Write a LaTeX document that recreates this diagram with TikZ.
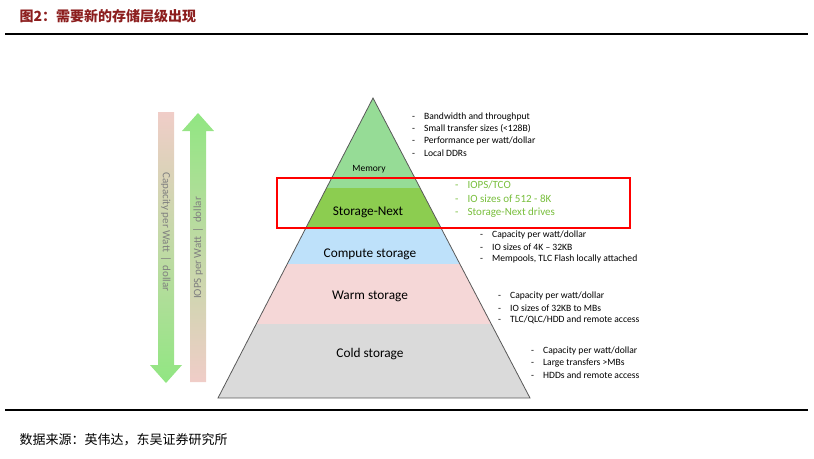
\documentclass[tikz,border=0pt]{standalone}
\usepackage{fontspec}
\setmainfont{Carlito}
\newfontfamily\cjk{Noto Sans CJK SC}
\usetikzlibrary{shadings}
\definecolor{hdr}{RGB}{140,30,30}
\definecolor{memc}{RGB}{150,220,150}
\definecolor{snc}{RGB}{140,205,80}
\definecolor{cmpc}{RGB}{190,225,250}
\definecolor{wrmc}{RGB}{245,215,215}
\definecolor{cldc}{RGB}{218,218,218}
\definecolor{grn}{RGB}{145,230,130}
\definecolor{pnk}{RGB}{240,205,200}
\definecolor{gtxt}{RGB}{120,190,60}
\begin{document}
\begin{tikzpicture}[x=1pt,y=-1pt,
  lay/.style={font=\fontsize{13.3}{14}\selectfont},
  item/.style={font=\fontsize{9.6}{10}\selectfont,anchor=west,inner sep=0},
  gitem/.style={font=\fontsize{11}{12}\selectfont,anchor=west,inner sep=0,text=gtxt},
  rot/.style={font=\fontsize{11}{12}\selectfont,text=gray}]
\useasboundingbox (0,0) rectangle (814,458);
\node[anchor=west,text=hdr,font=\cjk\bfseries\fontsize{14}{16}\selectfont] (title) at (16,16) {图2：需要新的存储层级出现};
\draw[line width=1.2pt] (5,34) -- (808,34);
\draw[line width=1.2pt] (5,410) -- (808,410);
\node[anchor=west,font=\cjk\fontsize{13}{15}\selectfont] (src) at (16,440) {数据来源：英伟达，东吴证券研究所};
% pyramid
\begin{scope}
\clip (373,98) -- (530,398) -- (218,398) -- cycle;
\fill[memc] (200,98) rectangle (550,188);
\fill[snc] (200,188) rectangle (550,228);
\fill[cmpc] (200,228) rectangle (550,264);
\fill[wrmc] (200,264) rectangle (550,324);
\fill[cldc] (200,324) rectangle (550,398);
\end{scope}
\draw[gray!70!black,line width=0.8pt] (373,98) -- (530,398) -- (218,398) -- cycle;
\node[lay,font=\fontsize{9.5}{10}\selectfont] (mem) at (369,169) {Memory};
\node[lay] (sn) at (368,212) {Storage-Next};
\node[lay] (cmp) at (370,254) {Compute storage};
\node[lay] (wrm) at (370,296) {Warm storage};
\node[lay] (cld) at (370,354) {Cold storage};
\draw[red,line width=1.6pt] (277,178) rectangle (630,228);
% arrows
\shade[top color=pnk,bottom color=grn] (158,112) -- (174,112) -- (174,365) -- (182,365) -- (166,383) -- (150,365) -- (158,365) -- cycle;
\shade[top color=grn,bottom color=pnk] (190,382) -- (206,382) -- (206,131) -- (214,131) -- (198,113) -- (182,131) -- (190,131) -- cycle;
\node[rot,rotate=-90] (cap) at (166,232) {Capacity per Watt \,|\, dollar};
\node[rot,rotate=90] (iops) at (198,248) {IOPS per Watt \,|\, dollar};
% lists
\foreach \t [count=\i] in {Bandwidth and throughput,Small transfer sizes (<128B),Performance per watt/dollar,Local DDRs}
  {\node[item] at (412,105+12*\i) {-\hspace{9pt}\t};}
\foreach \t [count=\i] in {IOPS/TCO,IO sizes of 512 - 8K,Storage-Next drives}
  {\node[gitem] at (455,171+14*\i) {-\hspace{9pt}\t};}
\foreach \t [count=\i] in {Capacity per watt/dollar,IO sizes of 4K -- 32KB,{Mempools, TLC Flash locally attached}}
  {\node[item] at (480,223+12*\i) {-\hspace{9pt}\t};}
\foreach \t [count=\i] in {Capacity per watt/dollar,IO sizes of 32KB to MBs,TLC/QLC/HDD and remote access}
  {\node[item] at (498,284+12*\i) {-\hspace{9pt}\t};}
\foreach \t [count=\i] in {Capacity per watt/dollar,Large transfers >MBs,HDDs and remote access}
  {\node[item] at (531,339+12*\i) {-\hspace{9pt}\t};}
\end{tikzpicture}
\end{document}
